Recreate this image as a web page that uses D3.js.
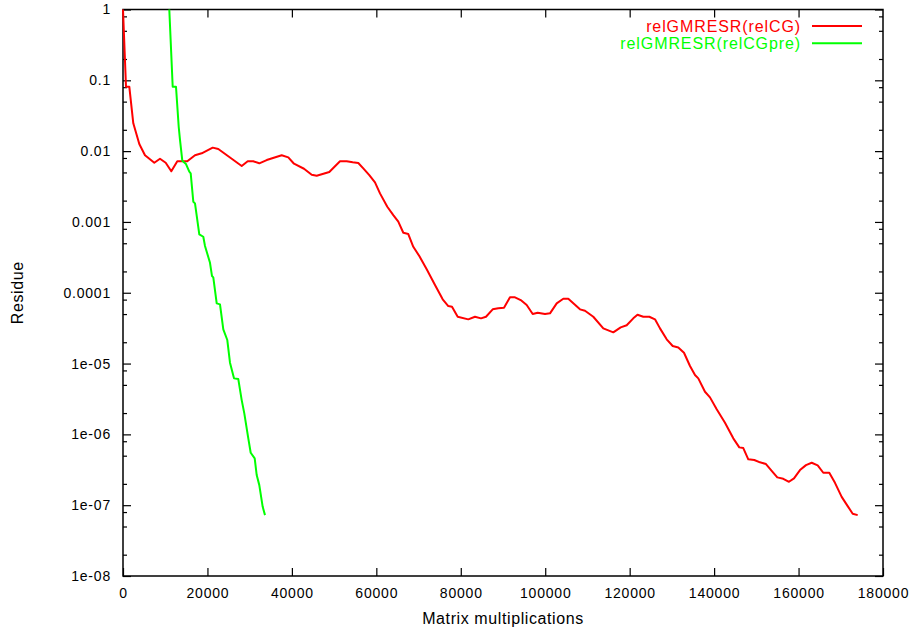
<!DOCTYPE html>
<html>
<head>
<meta charset="utf-8">
<script src="https://cdn.jsdelivr.net/npm/d3@7"></script>
<style>
  body { margin: 0; background: white; }
  svg { display: block; font-family: "Liberation Sans", Arial, sans-serif; }
</style>
</head>
<body>
<div id="chart"></div>
<script>
// matrix multiplications (x) and relative residue (y)
let cgX = [0, 711, 1492, 2439, 3860, 5210, 7413, 8763, 10113, 11439, 12860, 15229, 17052, 18640, 21245, 22571,
  28113, 29534, 30860, 32281, 34034, 37586, 39149, 40500, 42868, 44692, 45876, 48860, 51394, 52981, 54402, 55727,
  56911, 58333, 59683, 60867, 62596, 64017, 65201, 66385, 67570, 68754, 70175, 71928, 73894, 75717, 77044, 77920,
  79270, 81780, 83367, 84789, 85973, 87560, 88886, 90236, 91657, 92841, 94191, 95612, 97033, 98217, 99946, 101130,
  102717, 104280, 105464, 108235, 109420, 111385, 113754, 116122, 117874, 119295, 120858, 121853, 123227, 124648,
  125998, 127183, 128769, 130190, 131516, 132866, 134287, 135472, 136253, 137840, 139024, 140611, 142576, 144542,
  145963, 146911, 148095, 149516, 150866, 152287, 153637, 154963, 156384, 157734, 158918, 160339, 161760, 163110,
  164531, 165857, 167278, 168628, 170215, 171636, 172820, 174004];
let cgY = [1, 0.0812, 0.0812, 0.0247, 0.0126, 0.00873, 0.00686, 0.00781, 0.00686, 0.00519, 0.00718, 0.00718,
  0.00873, 0.00931, 0.0112, 0.0107, 0.00616, 0.00718, 0.00718, 0.00673, 0.00748, 0.00873, 0.00817, 0.00664,
  0.00564, 0.00464, 0.00449, 0.00507, 0.00718, 0.00718, 0.00695, 0.00679, 0.00571, 0.00459, 0.00362, 0.00253,
  0.00164, 0.00125, 0.00101, 0.000704, 0.000675, 0.000446, 0.00033, 0.000214, 0.000129, 8.07e-5, 6.49e-5, 6.34e-5,
  4.58e-5, 4.21e-5, 4.58e-5, 4.35e-5, 4.58e-5, 5.83e-5, 6.03e-5, 6.14e-5, 8.61e-5, 8.61e-5, 7.89e-5, 6.7e-5,
  5.0e-5, 5.22e-5, 5.0e-5, 5.12e-5, 7.08e-5, 8.22e-5, 8.22e-5, 5.83e-5, 5.57e-5, 4.58e-5, 3.14e-5, 2.76e-5,
  3.24e-5, 3.47e-5, 4.35e-5, 4.88e-5, 4.58e-5, 4.58e-5, 4.21e-5, 3.14e-5, 2.2e-5, 1.77e-5, 1.69e-5, 1.42e-5,
  9.23e-6, 6.89e-6, 6.18e-6, 4.0e-6, 3.33e-6, 2.26e-6, 1.46e-6, 8.79e-7, 6.55e-7, 6.4e-7, 4.44e-7, 4.34e-7,
  4.03e-7, 3.81e-7, 3.06e-7, 2.47e-7, 2.36e-7, 2.14e-7, 2.39e-7, 3.13e-7, 3.68e-7, 3.97e-7, 3.65e-7, 2.87e-7,
  2.87e-7, 2.07e-7, 1.31e-7, 9.71e-8, 7.56e-8, 7.24e-8];

let preX = [10966, 11771, 12552, 13192, 13500, 14045, 14921, 15703, 16034, 16650, 17052, 18071, 19018, 19421,
  20605, 21079, 21386, 22192, 22973, 23755, 24702, 25341, 26289, 27307, 28113, 28729, 29676, 30244, 31192, 31665,
  32281, 33086, 33631];
let preY = [1, 0.0812, 0.0812, 0.0221, 0.0144, 0.00732, 0.00657, 0.00512, 0.00486, 0.00193, 0.00183, 0.000668,
  0.000618, 0.000457, 0.000265, 0.000172, 0.000165, 7.08e-5, 6.85e-5, 3.04e-5, 2.15e-5, 1.03e-5, 6.18e-6,
  6.04e-6, 3.05e-6, 1.98e-6, 8.79e-7, 5.5e-7, 4.58e-7, 2.66e-7, 1.92e-7, 9.49e-8, 7.24e-8];

let seriesNames = ["relGMRESR(relCG)", "relGMRESR(relCGpre)"];
let seriesColors = ["#ff0000", "#00ff00"];

let xTicks = [0, 20000, 40000, 60000, 80000, 100000, 120000, 140000, 160000, 180000];
let yTicks = [1, 0.1, 0.01, 0.001, 0.0001, 1e-5, 1e-6, 1e-7, 1e-8];
let yTickLabels = ["1", "0.1", "0.01", "0.001", "0.0001", "1e-05", "1e-06", "1e-07", "1e-08"];
let yMinorSteps = [2, 5, 8];

let width = 917;
let height = 635;
let margin = { top: 9.5, right: 34, bottom: 59, left: 123 };

let x = d3.scaleLinear()
  .domain([0, 180000])
  .range([margin.left, width - margin.right]);

let y = d3.scaleLog()
  .domain([1e-8, 1])
  .range([height - margin.bottom, margin.top]);

let yMinor = [];
yTicks.slice(1).forEach(t => yMinorSteps.forEach(m => yMinor.push(t * m)));

const svg = d3.select("#chart").append("svg")
  .attr("width", width)
  .attr("height", height);

let styleAxis = function (g) {
  g.select(".domain").remove();
  g.selectAll(".tick line").attr("stroke", "black").attr("stroke-width", 1.2);
  g.selectAll(".tick text")
    .attr("fill", "black")
    .style("font-size", "14px")
    .style("letter-spacing", "0.8px");
}

// bottom and top
svg.append("g")
  .attr("transform", `translate(0 ${y.range()[0]})`)
  .call(d3.axisBottom(x).tickValues(xTicks).tickSize(-8).tickPadding(12).tickFormat(d3.format("d")))
  .call(styleAxis);
svg.append("g")
  .attr("transform", `translate(0 ${margin.top})`)
  .call(d3.axisTop(x).tickValues(xTicks.slice(1, -1)).tickSize(-8).tickFormat(""))
  .call(styleAxis);

// left and right
svg.append("g")
  .attr("transform", `translate(${margin.left} 0)`)
  .call(d3.axisLeft(y).tickValues(yTicks).tickSize(-8).tickPadding(12).tickFormat((d, i) => yTickLabels[i]))
  .call(styleAxis);
svg.append("g")
  .attr("transform", `translate(${margin.left} 0)`)
  .call(d3.axisLeft(y).tickValues(yMinor).tickSize(-4).tickFormat(""))
  .call(styleAxis);
svg.append("g")
  .attr("transform", `translate(${width - margin.right} 0)`)
  .call(d3.axisRight(y).tickValues(yTicks).tickSize(-8).tickFormat(""))
  .call(styleAxis);
svg.append("g")
  .attr("transform", `translate(${width - margin.right} 0)`)
  .call(d3.axisRight(y).tickValues(yMinor).tickSize(-4).tickFormat(""))
  .call(styleAxis);

svg.append("rect")
  .attr("x", x.range()[0])
  .attr("y", y.range()[1])
  .attr("width", x.range()[1] - x.range()[0])
  .attr("height", y.range()[0] - y.range()[1])
  .attr("fill", "none")
  .attr("stroke", "black")
  .attr("stroke-width", 1.5);

let line = d3.line()
  .x(d => x(d[0]))
  .y(d => y(d[1]));

let series = [d3.zip(cgX, cgY), d3.zip(preX, preY)];

svg.append("g")
  .selectAll("path")
  .data(series)
  .join("path")
  .attr("d", line)
  .attr("fill", "none")
  .attr("stroke", (d, i) => seriesColors[i])
  .attr("stroke-width", 2)
  .attr("stroke-linejoin", "round");

// legend, top right inside the frame
const legend = svg.append("g")
  .selectAll("g")
  .data(seriesNames)
  .join("g")
  .attr("transform", (d, i) => `translate(0 ${26 + i * 17.3})`);

legend.append("text")
  .attr("x", 801)
  .attr("dy", "0.35em")
  .attr("text-anchor", "end")
  .attr("fill", (d, i) => seriesColors[i])
  .style("font-size", "16px")
  .style("letter-spacing", "0.9px")
  .text(d => d);

legend.append("line")
  .attr("x1", 812)
  .attr("x2", 862)
  .attr("stroke", (d, i) => seriesColors[i])
  .attr("stroke-width", 2);

svg.append("text")
  .attr("x", (x.range()[0] + x.range()[1]) / 2)
  .attr("y", 624)
  .attr("text-anchor", "middle")
  .style("font-size", "16px")
  .style("letter-spacing", "0.6px")
  .text("Matrix multiplications");

svg.append("text")
  .attr("transform", `translate(17 ${(y.range()[0] + y.range()[1]) / 2}) rotate(-90)`)
  .attr("dy", "0.35em")
  .attr("text-anchor", "middle")
  .style("font-size", "16px")
  .style("letter-spacing", "0.6px")
  .text("Residue");
</script>
</body>
</html>
